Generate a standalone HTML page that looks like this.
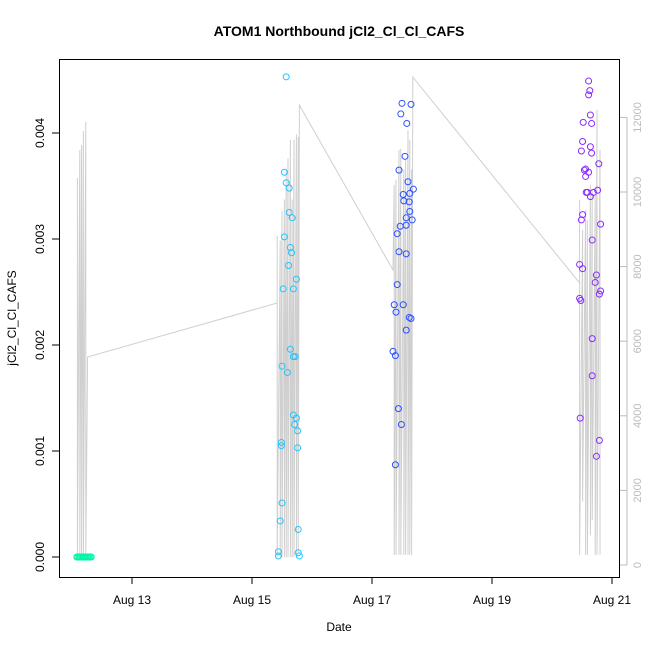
<!DOCTYPE html>
<html><head><meta charset="utf-8"><style>
body{margin:0;background:#fff;}
svg{display:block;font-family:"Liberation Sans",sans-serif;}
</style></head><body>
<svg id="chart" width="650" height="650">
<rect width="650" height="650" fill="#fff"/>
<text x="339" y="36" text-anchor="middle" font-size="14" font-weight="bold">ATOM1 Northbound jCl2_Cl_Cl_CAFS</text>
<text x="339" y="631" text-anchor="middle" font-size="12">Date</text>
<text transform="translate(16,318) rotate(-90)" text-anchor="middle" font-size="12">jCl2_Cl_Cl_CAFS</text>
<g id="gray"></g>
<g id="pts"></g>
<g id="axes"></g>
<rect x="59.5" y="59.5" width="560" height="518" fill="none" stroke="#000"/>
</svg>
<script>
const xTicks=[13,15,17,19,21];
const xTickLabels=["Aug 13","Aug 15","Aug 17","Aug 19","Aug 21"];
const yTicks=[0,0.001,0.002,0.003,0.004];
const yTickLabels=["0.000","0.001","0.002","0.003","0.004"];
const y2Ticks=[0,2000,4000,6000,8000,10000,12000];
const greenT=[12.08,12.10,12.12,12.14,12.16,12.18,12.20,12.22,12.24,12.26,12.28,12.30,12.32];
const greenV=[0,0,0,0,0,0,0,0,0,0,0,0,0];
const cyanT=[15.57,15.54,15.57,15.62,15.62,15.67,15.54,15.64,15.66,15.61,15.74,15.52,15.69,15.64,15.72,15.69,15.50,15.59,15.69,15.74,15.71,15.76,15.49,15.49,15.76,15.50,15.47,15.77,15.44,15.44,15.77,15.79];
const cyanV=[.00453,.00363,.00353,.00348,.00325,.00320,.00302,.00292,.00287,.00275,.00262,.00253,.00253,.00196,.00189,.00189,.00180,.00174,.00134,.00131,.00125,.00119,.00108,.00105,.00103,.00051,.00034,.00026,.00005,.00001,.00004,.00001];
const blueT=[17.50,17.65,17.48,17.58,17.55,17.45,17.60,17.69,17.52,17.63,17.53,17.62,17.63,17.57,17.67,17.47,17.57,17.42,17.45,17.57,17.42,17.37,17.52,17.40,17.62,17.65,17.57,17.35,17.39,17.44,17.49,17.39];
const blueV=[.00428,.00427,.00418,.00409,.00378,.00365,.00354,.00347,.00342,.00343,.00336,.00335,.00326,.00320,.00318,.00312,.00313,.00305,.00288,.00286,.00257,.00238,.00238,.00231,.00226,.00225,.00214,.00194,.00190,.00140,.00125,.00087];
const purpT=[20.61,20.63,20.61,20.64,20.52,20.66,20.51,20.64,20.49,20.66,20.78,20.54,20.56,20.61,20.56,20.57,20.59,20.69,20.76,20.64,20.81,20.51,20.49,20.67,20.46,20.51,20.74,20.72,20.81,20.79,20.46,20.48,20.67,20.67,20.47,20.79,20.74];
const purpV=[.00449,.00440,.00436,.00417,.00410,.00409,.00392,.00387,.00383,.00381,.00371,.00365,.00366,.00363,.00359,.00344,.00344,.00344,.00346,.00340,.00314,.00323,.00318,.00299,.00276,.00272,.00266,.00259,.00251,.00248,.00244,.00242,.00206,.00171,.00131,.00110,.00095];
const grayT=[12.09,12.09,12.13,12.13,12.16,12.16,12.19,12.19,12.23,12.23,12.26,
15.42,15.42,15.42,15.47,15.47,15.50,15.50,15.54,15.54,15.57,15.57,15.60,15.60,15.64,15.64,15.67,15.67,15.70,15.70,15.74,15.74,15.77,15.77,15.79,
17.35,17.37,17.37,17.40,17.40,17.45,17.45,17.48,17.48,17.53,17.53,17.56,17.56,17.60,17.60,17.63,17.63,17.66,17.66,17.68,
20.46,20.46,20.46,20.51,20.51,20.56,20.56,20.59,20.59,20.64,20.64,20.67,20.67,20.72,20.72,20.75,20.75,20.80,20.80];
const grayV=[10375,210,11126,210,11260,210,11635,210,11877,270,5576,
7024,8820,210,8700,210,9500,210,9800,210,10600,210,10900,210,11400,210,9800,210,11400,210,11550,210,11480,300,12330,
7909,10190,270,10330,270,11130,270,11160,270,10600,270,10860,270,11660,270,11400,270,10600,270,13080,
7560,9780,270,8980,1700,9520,270,9250,270,10190,800,10050,1200,9920,270,12200,270,11130,270];
const X0=11.79,PX=60,XL=132;
function xs(t){return XL+(t-13)*PX;}
function ys(v){return 557-v*106000;}
function y2(v){return 565-v*0.0373;}
const NS="http://www.w3.org/2000/svg";
function mk(tag,attrs,parent,txt){const e=document.createElementNS(NS,tag);for(const k in attrs)e.setAttribute(k,attrs[k]);if(txt!==undefined)e.textContent=txt;parent.appendChild(e);return e;}
const gray=document.getElementById('gray');
let d='';grayT.forEach((t,i)=>{d+=(i?'L':'M')+xs(t).toFixed(1)+' '+y2(grayV[i]).toFixed(1);});
const gl=mk('path',{d:d,fill:'none',stroke:'#cfcfcf','stroke-width':1},gray);


const pts=document.getElementById('pts');
function series(T,V,col,name){T.forEach((t,i)=>{const c=mk('circle',{cx:xs(t),cy:ys(V[i]),r:3,fill:'none',stroke:col,'stroke-width':1},pts);

});}
series(greenT,greenV,'#00f5a8','point-aug12');
series(cyanT,cyanV,'#22c4ff','point-aug15');
series(blueT,blueV,'#2a50ff','point-aug17');
series(purpT,purpV,'#8a2cff','point-aug20');
const ax=document.getElementById('axes');
xTicks.forEach((t,i)=>{const x=xs(t);mk('line',{x1:x,x2:x,y1:577.5,y2:584,stroke:'#000'},ax);
const lb=mk('text',{x:x,y:604,'text-anchor':'middle','font-size':12},ax,xTickLabels[i]);

});
yTicks.forEach((v,i)=>{const y=ys(v);mk('line',{x1:52,x2:59.5,y1:y,y2:y,stroke:'#000'},ax);
const lb=mk('text',{transform:`translate(44,${y}) rotate(-90)`,'text-anchor':'middle','font-size':12},ax,yTickLabels[i]);

});
mk('line',{x1:59.5,x2:59.5,y1:ys(0),y2:ys(0.004),stroke:'#000'},ax);
mk('line',{x1:xs(13),x2:xs(21),y1:577.5,y2:577.5,stroke:'#000'},ax);
mk('line',{x1:627,x2:627,y1:y2(0),y2:y2(12000),stroke:'#bbb'},ax);
y2Ticks.forEach(v=>{const y=y2(v);mk('line',{x1:620,x2:627,y1:y,y2:y,stroke:'#bbb'},ax);
const lb=mk('text',{transform:`translate(641,${y}) rotate(-90)`,'text-anchor':'middle','font-size':11,fill:'#bbb'},ax,String(v));

});
</script>
</body></html>
